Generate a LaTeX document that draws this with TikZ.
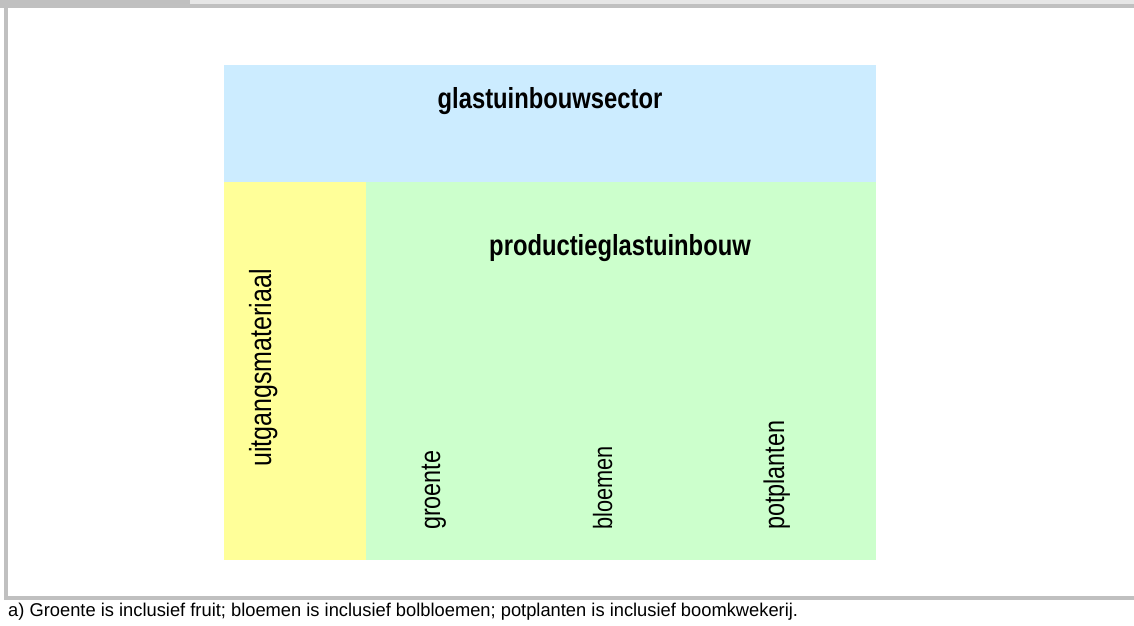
\documentclass[tikz,border=0pt]{standalone}
\usepackage{fontspec}
\setmainfont{Liberation Sans}[FakeStretch=0.82]
\newfontfamily\notefont{Liberation Sans}[FakeStretch=0.99]
\definecolor{sectorblue}{HTML}{CCECFF}
\definecolor{matyellow}{HTML}{FFFF99}
\definecolor{prodgreen}{HTML}{CCFFCC}
\definecolor{framegray}{HTML}{C0C0C0}
\definecolor{titlegray}{HTML}{E6E6E6}
\tikzset{
  area/.style={draw=none, inner sep=0pt, outer sep=0pt, anchor=north west},
  headlabel/.style={inner sep=0pt, font=\fontsize{29}{33}\selectfont\bfseries, anchor=base},
  sublabel/.style={inner sep=0pt, font=\fontsize{28.5}{32}\selectfont, rotate=90, anchor=base west},
  notelabel/.style={inner sep=0pt, font=\notefont\fontsize{18.5}{21}\selectfont, anchor=base west},
  bar/.style={fill=framegray, draw=none}
}
\begin{document}
\begin{tikzpicture}[x=1pt,y=-1pt]
\useasboundingbox (0,0) rectangle (1134,625);
\fill[white] (0,0) rectangle (1134,625);
% title strip (cut off)
\fill[framegray] (0,0) rectangle (190,4);
\fill[titlegray] (190,0) rectangle (1134,4);
\fill[framegray] (0,4) rectangle (1134,8);
% frame
\fill[framegray] (3.5,4) rectangle (7.5,600);
\fill[framegray] (3.5,596) rectangle (1134,600);
% areas
\node[area, fill=sectorblue, minimum width=652pt, minimum height=117pt] (sector) at (224,65) {};
\node[area, fill=matyellow, minimum width=142pt, minimum height=378pt] (mat) at (224,182) {};
\node[area, fill=prodgreen, minimum width=510pt, minimum height=378pt] (prod) at (366,182) {};
% labels
\node[headlabel] (sectorlbl) at (550,108) {glastuinbouwsector};
\node[headlabel] (prodlbl) at (620,255) {productieglastuinbouw};
\node[sublabel, font=\fontsize{30.5}{34}\selectfont] (matlbl) at (271,467) {uitgangsmateriaal};
\node[sublabel] (groente) at (440,530) {groente};
\node[sublabel, font=\fontsize{26.5}{30}\selectfont] (bloemen) at (612,530) {bloemen};
\node[sublabel] (potplanten) at (784,530) {potplanten};
\node[notelabel] (note) at (8,616) {a) Groente is inclusief fruit; bloemen is inclusief bolbloemen; potplanten is inclusief boomkwekerij.};
\end{tikzpicture}
\end{document}
